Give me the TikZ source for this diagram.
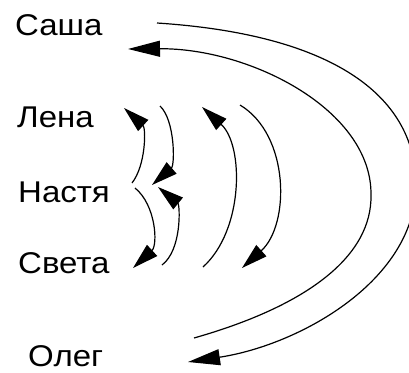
\documentclass[tikz,border=0pt]{standalone}
\usepackage{fontspec}
\setmainfont{Liberation Sans}[FakeStretch=1.1]
\usetikzlibrary{arrows.meta}
\begin{document}
\begin{tikzpicture}[x=1pt,y=-1pt,
  lbl/.style={anchor=base west,inner sep=0pt,font=\fontsize{30}{30}\selectfont},
  arc/.style={line width=1.2pt,-{Triangle[length=26pt,width=15pt]}},
  bigarc/.style={line width=1.2pt,-{Triangle[length=32pt,width=16pt]}}]
\useasboundingbox[fill=white] (0,0) rectangle (409,372);
\clip (0,0) rectangle (409,372);
\node[lbl] (sasha) at (15,35) {Саша};
\node[lbl] (lena) at (17,127) {Лена};
\node[lbl] (nastya) at (18,202) {Настя};
\node[lbl] (sveta) at (18,273) {Света};
\node[lbl] (oleg) at (28,366) {Олег};
% endpoints
\coordinate (a1) at (132,183); \coordinate (a2) at (124,108);
\coordinate (b1) at (135,188); \coordinate (b2) at (133,268);
\coordinate (c1) at (160,106); \coordinate (c2) at (152,185);
\coordinate (d1) at (162,265); \coordinate (d2) at (158,187);
\coordinate (e1) at (203,267); \coordinate (e2) at (202,107);
\coordinate (f1) at (240,105); \coordinate (f2) at (242,268);
\coordinate (o1) at (157,23); \coordinate (om) at (416,185); \coordinate (o2) at (188,362);
\coordinate (p1) at (194,338); \coordinate (pm) at (371,195); \coordinate (p2) at (128,49);
\draw[arc] (a1) .. controls (146,165) and (146,128) .. (a2);
\draw[arc] (b1) .. controls (156,205) and (158,245) .. (b2);
\draw[arc] (c1) .. controls (175,120) and (175,165) .. (c2);
\draw[arc] (d1) .. controls (182,250) and (180,205) .. (d2);
\draw[arc] (e1) .. controls (244,230) and (244,145) .. (e2);
\draw[arc] (f1) .. controls (290,135) and (290,225) .. (f2);
\draw[bigarc] (o1) .. controls (340,35) and (416,100) .. (om) .. controls (416,280) and (300,345) .. (o2);
\draw[bigarc] (p1) .. controls (310,305) and (372,255) .. (pm) .. controls (372,110) and (250,48) .. (p2);
\end{tikzpicture}
\end{document}
